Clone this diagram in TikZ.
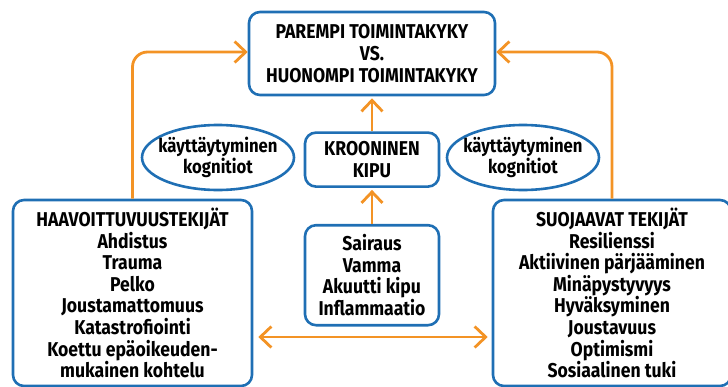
\documentclass[tikz,border=0pt]{standalone}
\usepackage{fontspec}
\setmainfont{Fira Sans}[FakeStretch=0.88]
\usepackage{tikz}
\usetikzlibrary{positioning, arrows.meta, shapes.geometric}
\definecolor{boxblue}{HTML}{1F6FB4}
\definecolor{arroworange}{HTML}{F39325}
\newcommand{\diagfont}{\bfseries\fontsize{20}{21.6}\selectfont\lineskiplimit=-20pt\relax\lineskip=0pt\relax}

\begin{document}
\begin{tikzpicture}[
    x=1pt, y=-1pt,
    font=\diagfont,
    box/.style={draw=boxblue, line width=2.6pt, rounded corners=11pt, align=center, inner sep=0pt},
    oval/.style={draw=boxblue, line width=2.6pt, ellipse, align=center, inner xsep=-16pt, inner ysep=-2pt, minimum width=152pt, minimum height=65pt, font=\diagfont\fontsize{19}{21.6}\selectfont},
    barb/.tip={Straight Barb[length=11pt,width=21pt]},
    arrow/.style={-barb, arroworange, line width=2.8pt},
    every node/.style={align=center}
]
\useasboundingbox (0,0) rectangle (728,386);

% outcome
\node[box, minimum width=246pt, minimum height=83pt] (outcome) at (372,53.5) {
    PAREMPI TOIMINTAKYKY\\
    VS.\\
    HUONOMPI TOIMINTAKYKY
};

% chronic pain
\node[box, minimum width=134pt, minimum height=54pt, below=35pt of outcome] (kipu) {
    KROONINEN\\
    KIPU
};

% triggers
\node[box, minimum width=134pt, minimum height=100pt, below=36pt of kipu] (syyt) {
    Sairaus\\
    Vamma\\
    Akuutti kipu\\
    Inflammaatio
};

% vulnerability factors
\node[box, minimum width=239pt, minimum height=186pt] (haavoittuvuus) at (132.5,293) {
    HAAVOITTUVUUSTEKIJÄT\\
    Ahdistus\\
    Trauma\\
    Pelko\\
    Joustamattomuus\\
    Katastrofiointi\\
    Koettu epäoikeuden-\\
    mukainen kohtelu
};

% protective factors
\node[box, minimum width=238pt, minimum height=186pt] (suojaavat) at (612,293) {
    SUOJAAVAT TEKIJÄT\\
    Resilienssi\\
    Aktiivinen pärjääminen\\
    Minäpystyvyys\\
    Hyväksyminen\\
    Joustavuus\\
    Optimismi\\
    Sosiaalinen tuki
};

% mediators
\node[oval] (mediaattoriv) at (218,157.5) {käyttäytyminen\\kognitiot};
\node[oval] (mediaattorio) at (523,157.5) {käyttäytyminen\\kognitiot};

% Draw arrows
\draw[arrow, shorten >=2pt] (kipu.north) -- (outcome.south);
\draw[arrow, shorten >=2pt] (syyt.north) -- (kipu.south);
\draw[arrow, rounded corners=15pt] (haavoittuvuus.north) |- ([yshift=1.5pt]outcome.west);
\draw[arrow, rounded corners=15pt] (suojaavat.north) |- ([yshift=1.5pt]outcome.east);
\draw[arrow, barb-barb, shorten <=5pt, shorten >=4pt]
    ([yshift=-44pt]haavoittuvuus.east) -- ([yshift=-44pt]suojaavat.west);
\end{tikzpicture}
\end{document}
